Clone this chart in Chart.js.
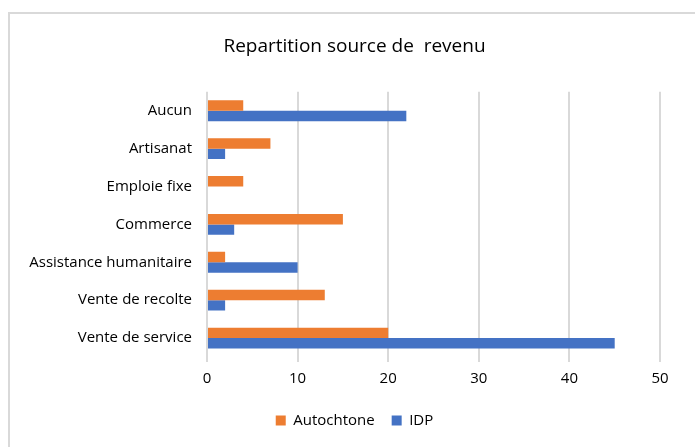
<!DOCTYPE html>
<html>
<head>
<meta charset="utf-8">
<script src="https://cdn.jsdelivr.net/npm/chart.js@4"></script>
<style>
  body { margin: 0; background: #fff; }
  #frame {
    position: absolute; left: 8px; top: 12px; width: 687px; height: 435px;
    border-left: 2px solid #d9d9d9; border-top: 2px solid #d9d9d9;
    box-sizing: border-box;
  }
  #box { position: absolute; left: 0; top: 0; width: 695px; height: 447px; }
</style>
</head>
<body>
<div id="frame"></div>
<div id="box"><canvas id="chart"></canvas></div>
<script>
// categories, top to bottom
const categories = ["Aucun", "Artisanat", "Emploie fixe", "Commerce", "Assistance humanitaire", "Vente de recolte", "Vente de service"];
const autochtone = [4, 7, 4, 15, 2, 13, 20];
const idp = [22, 2, 0, 3, 10, 2, 45];
const xTicks = [0, 10, 20, 30, 40, 50];

const font = "'Open Sans', 'DejaVu Sans', sans-serif";

new Chart(document.getElementById("chart"), {
  type: "bar",
  data: {
    labels: categories,
    datasets: [
      { label: "Autochtone", data: autochtone, backgroundColor: "#ED7D31" },
      { label: "IDP", data: idp, backgroundColor: "#4472C4" }
    ]
  },
  options: {
    indexAxis: "y",
    responsive: true,
    maintainAspectRatio: false,
    animation: false,
    datasets: { bar: { categoryPercentage: 0.55, barPercentage: 1 } },
    layout: { padding: { left: 14, right: 0, top: 35, bottom: 9 } },
    plugins: {
      title: {
        display: true,
        text: "Repartition source de  revenu",
        color: "#000",
        font: { family: font, size: 19, weight: "normal" },
        padding: { top: 0, bottom: 34 }
      },
      legend: {
        position: "bottom",
        labels: {
          color: "#000",
          font: { family: font, size: 15 },
          boxWidth: 10, boxHeight: 10, padding: 17
        }
      },
      tooltip: { enabled: false }
    },
    scales: {
      x: {
        min: 0, max: 50,
        afterBuildTicks: (s) => { s.ticks = xTicks.map((v) => ({ value: v })); },
        grid: { color: "#d9d9d9", lineWidth: 2, tickLength: 5 },
        border: { display: false },
        ticks: { color: "#000", font: { family: font, size: 15 }, padding: 8 }
      },
      y: {
        grid: { display: false },
        border: { display: false },
        afterFit: (s) => { s.width = 193; },
        ticks: { color: "#000", font: { family: font, size: 15 }, padding: 7 }
      },
      // empty right axis, only keeps space on the right of the plot
      yRight: {
        type: "category",
        position: "right",
        grid: { display: false },
        border: { display: false },
        ticks: { display: false },
        afterFit: (s) => { s.width = 35; }
      }
    }
  }
});
</script>
</body>
</html>
